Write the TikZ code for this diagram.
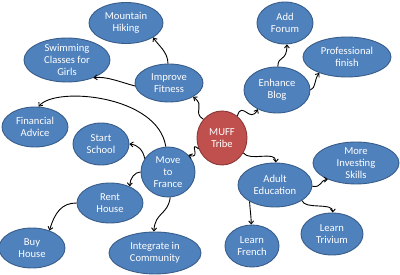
\documentclass[tikz,border=0pt]{standalone}
\usepackage{fontspec}
\setmainfont{Carlito}
\usetikzlibrary{shapes.geometric,arrows.meta}
\definecolor{bubfill}{HTML}{4F81BD}
\definecolor{bubline}{HTML}{385D8A}
\definecolor{hubfill}{HTML}{C0504D}
\definecolor{hubline}{HTML}{8C3836}
\tikzset{
  bub/.style 2 args={ellipse, draw=bubline, fill=bubfill, text=white,
    line width=0.9pt, minimum width=#1pt, minimum height=#2pt,
    inner xsep=-20pt, inner ysep=-20pt, align=center,
    font=\fontsize{10.6}{12.3}\selectfont},
  hub/.style 2 args={bub={#1}{#2}, draw=hubline, fill=hubfill},
  conn/.style={draw=black, line width=0.9pt, -{Straight Barb[length=3pt,width=5pt]}}
}
\begin{document}
\begin{tikzpicture}[x=1pt,y=-1pt]
\useasboundingbox[fill=white] (0,0) rectangle (400,275);
% nodes
\node[hub={50}{54}] (muff) at (222,138) {MUFF\\Tribe};
\node[bub={68}{38}] (fit) at (169,83) {Improve\\Fitness};
\node[bub={74}{41}] (mh) at (126,23) {Mountain\\Hiking};
\node[bub={86}{44}] (sw) at (67,60) {Swimming\\Classes for\\Girls};
\node[bub={66}{40}] (fa) at (35,127) {Financial\\Advice};
\node[bub={56}{42}] (ss) at (101,144) {Start\\School};
\node[bub={54}{50}] (mtf) at (168,172) {Move\\to\\France};
\node[bub={66}{40}] (rh) at (110,203) {Rent\\House};
\node[bub={66}{40}] (bh) at (32,248) {Buy\\House};
\node[bub={92}{42}] (ic) at (155,253) {Integrate in\\Community};
\node[bub={56}{42}] (af) at (285,23) {Add\\Forum};
\node[bub={88}{40}] (pf) at (347,57) {Professional\\finish};
\node[bub={66}{46}] (eb) at (277,90) {Enhance\\Blog};
\node[bub={74}{44}] (ae) at (275,185) {Adult\\Education};
\node[bub={86}{42}] (mis) at (356,163) {More\\Investing\\Skills};
\node[bub={54}{42}] (lf) at (252,246) {Learn\\French};
\node[bub={62}{42}] (lt) at (332,234) {Learn\\Trivium};
% connectors
\draw[conn] (muff.135) .. controls (192,112) and (206,106) .. (fit.-30);
\draw[conn] (fit.93) .. controls (168,52) and (158,45) .. (mh.-28);
\draw[conn] (fit.185) .. controls (120,82) and (106,76) .. (sw.-34);
\draw[conn] (mtf.95) .. controls (158,95) and (55,86) .. (fa.80);
\draw[conn] (muff.205) .. controls (188,140) and (202,160) .. (mtf.40);
\draw[conn] (mtf.150) .. controls (143,150) and (138,145) .. (ss.0);
\draw[conn] (mtf.180) .. controls (135,172) and (130,178) .. (rh.40);
\draw[conn] (mtf.-85) .. controls (168,215) and (155,212) .. (ic.93);
\draw[conn] (rh.180) .. controls (62,203) and (55,212) .. (bh.45);
\draw[conn] (muff.55) .. controls (242,100) and (250,124) .. (eb.-135);
\draw[conn] (eb.88) .. controls (278,55) and (287,62) .. (af.-85);
\draw[conn] (eb.0) .. controls (316,88) and (314,80) .. (pf.-150);
\draw[conn] (muff.-35) .. controls (250,162) and (276,150) .. (ae.88);
\draw[conn] (ae.-2) .. controls (322,188) and (320,180) .. (mis.-150);
\draw[conn] (ae.-147) .. controls (250,210) and (251,214) .. (lf.92);
\draw[conn] (ae.-30) .. controls (305,210) and (333,202) .. (lt.88);
\end{tikzpicture}
\end{document}
